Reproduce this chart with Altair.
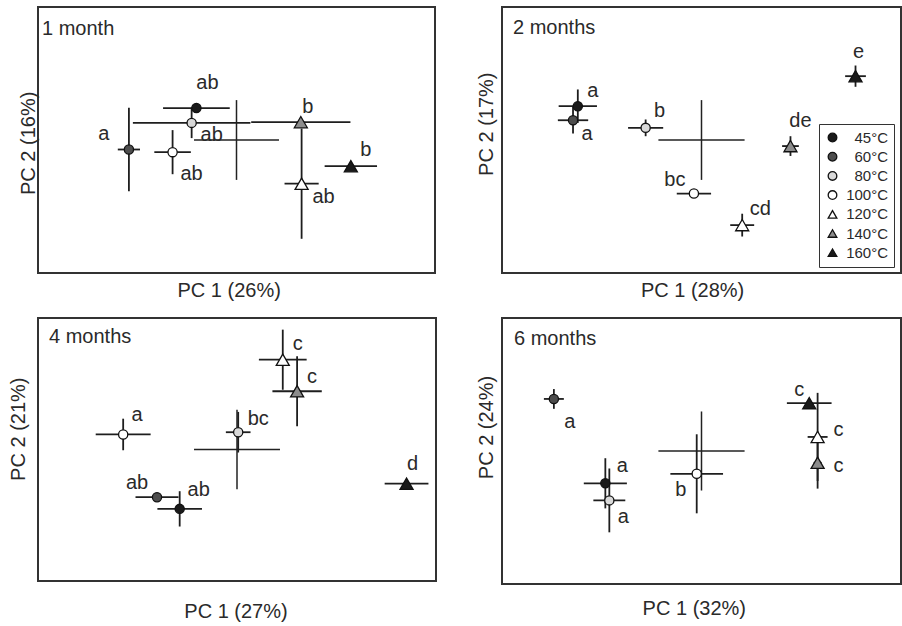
import altair as alt
import pandas as pd

FONT = "Liberation Sans"
INK = "#2a2a2a"

# Treatment temperatures (shared by all panels)
temps = ["45°C", "60°C", "80°C", "100°C", "120°C", "140°C", "160°C"]
fills = ["#1a1a1a", "#4d4d4d", "#d9d9d9", "#ffffff", "#ffffff", "#8c8c8c", "#1a1a1a"]
outlines = ["#111111"] * 7
shapes = ["circle", "circle", "circle", "circle", "triangle-up", "triangle-up", "triangle-up"]

panel_names = ["1 month", "2 months", "4 months", "6 months"]
pc1_titles = ["PC 1 (26%)", "PC 1 (28%)", "PC 1 (27%)", "PC 1 (32%)"]
pc2_titles = ["PC 2 (16%)", "PC 2 (17%)", "PC 2 (21%)", "PC 2 (24%)"]

# PCA scores (mean) and their standard errors, one list per storage time
pc1_1m = [-1.01, -2.71, -1.13, -1.61, 1.64, 1.62, 2.88]
pc2_1m = [0.84, -0.25, 0.45, -0.32, -1.15, 0.47, -0.69]
pc1_err_1m = [0.84, 0.28, 1.48, 0.46, 0.43, 1.25, 0.66]
pc2_err_1m = [0.10, 1.10, 0.40, 0.58, 1.45, 0.10, 0.10]
letters_1m = ["ab", "a", "ab", "ab", "ab", "b", "b"]

pc1_2m = [-3.10, -3.22, -1.40, -0.19, 1.02, 2.23, 3.86]
pc2_2m = [0.89, 0.52, 0.32, -1.41, -2.24, -0.16, 1.68]
pc1_err_2m = [0.48, 0.38, 0.44, 0.43, 0.30, 0.21, 0.26]
pc2_err_2m = [0.44, 0.35, 0.22, 0.10, 0.30, 0.26, 0.28]
letters_2m = ["a", "a", "b", "bc", "cd", "de", "e"]

pc1_4m = [-1.44, -2.01, 0.03, -2.86, 1.15, 1.51, 4.26]
pc2_4m = [-1.58, -1.27, 0.46, 0.40, 2.39, 1.55, -0.91]
pc1_err_4m = [0.56, 0.54, 0.31, 0.69, 0.60, 0.62, 0.55]
pc2_err_4m = [0.47, 0.10, 0.54, 0.42, 0.80, 0.93, 0.10]
letters_4m = ["ab", "ab", "bc", "a", "c", "c", "d"]

pc1_6m = [-2.41, -3.70, -2.31, -0.12, 2.91, 2.91, 2.70]
pc2_6m = [-0.85, 1.37, -1.30, -0.60, 0.37, -0.31, 1.26]
pc1_err_6m = [0.54, 0.25, 0.40, 0.66, 0.25, 0.10, 0.56]
pc2_err_6m = [0.66, 0.26, 0.84, 1.04, 1.16, 0.68, 0.10]
letters_6m = ["a", "a", "a", "b", "c", "c", "c"]

# Control (origin) spread per storage time
control_pc1_err = [1.07, 1.08, 1.08, 1.08]
control_pc2_err = [1.05, 1.05, 1.06, 1.04]

# Letter placement next to each marker, in pixels (right / down)
label_dx = [
    [11, -25, 20, 19, 22, 7, 15],
    [15, 14, 14, -19, 18, 10, 3],
    [19, -20, 20, 14, 15, 15, 6],
    [17, 16, 14, -16, 21, 21, -10],
]
label_dy = [
    [-25, -16, 12, 22, 13, -15, -16],
    [-15, 14, -17, -14, -16, -25, -24],
    [-19, -14, -13, -19, -16, -14, -20],
    [-17, 23, 17, 16, -7, 3, -13],
]

series = [
    (pc1_1m, pc2_1m, pc1_err_1m, pc2_err_1m, letters_1m),
    (pc1_2m, pc2_2m, pc1_err_2m, pc2_err_2m, letters_2m),
    (pc1_4m, pc2_4m, pc1_err_4m, pc2_err_4m, letters_4m),
    (pc1_6m, pc2_6m, pc1_err_6m, pc2_err_6m, letters_6m),
]

# Panel geometry and axis-title placement
dims = [(397, 266), (399, 266), (398, 263), (399, 266)]
xtitle_pos = [(190.7, 23.3), (190.1, 23.5), (197.5, 36.0), (191.8, 30.0)]
ytitle_pos = [(-3.3, 135.8), (-9.7, 116.7), (-13.3, 110.7), (-10.0, 109.0)]
name_pos = [(4, 47.6), (11, 47.3), (11, 45.0), (12, 47.3)]

X_DOM = [-5, 5]
Y_DOM = [-3.5, 3.5]

fill_scale = alt.Scale(domain=temps, range=fills)
stroke_scale = alt.Scale(domain=temps, range=outlines)
shape_scale = alt.Scale(domain=temps, range=shapes)

# Boxed key inside the 2-month panel, labels flush right
legend = alt.Legend(
    title=None,
    orient="none",
    legendX=781,
    legendY=117,
    strokeColor="#333333",
    padding=6,
    labelFont=FONT,
    labelFontSize=15,
    labelColor=INK,
    labelAlign="right",
    labelOffset=48,
    rowPadding=3.2,
    symbolSize=75,
    symbolStrokeWidth=1.3,
)


def panel(i):
    pc1, pc2, e1, e2, letters = series[i]
    w, h = dims[i]
    kx = w / (X_DOM[1] - X_DOM[0])
    ky = h / (Y_DOM[1] - Y_DOM[0])
    df = pd.DataFrame({
        "temp": temps, "pc1": pc1, "pc2": pc2, "e1": e1, "e2": e2,
        "letter": letters, "ldx": label_dx[i], "ldy": label_dy[i],
        "shape": shapes,
    })
    ctrl = pd.DataFrame({"pc1": [0.0], "pc2": [0.0],
                         "e1": [control_pc1_err[i]], "e2": [control_pc2_err[i]]})

    xax = alt.Axis(title=pc1_titles[i], titleX=xtitle_pos[i][0], titleY=xtitle_pos[i][1],
                   titleBaseline="alphabetic")
    yax = alt.Axis(title=pc2_titles[i], titleX=ytitle_pos[i][0], titleY=ytitle_pos[i][1],
                   titleBaseline="alphabetic")
    sx = alt.Scale(domain=X_DOM, nice=False, zero=False)
    sy = alt.Scale(domain=Y_DOM, nice=False, zero=False)

    def X(f):
        return alt.X(f, type="quantitative", scale=sx, axis=xax)

    def Y(f):
        return alt.Y(f, type="quantitative", scale=sy, axis=yax)

    calc = dict(x_lo="datum.pc1 - datum.e1", x_hi="datum.pc1 + datum.e1",
                y_lo="datum.pc2 - datum.e2", y_hi="datum.pc2 + datum.e2")

    ctrl_base = alt.Chart(ctrl).transform_calculate(**calc)
    ctrl_h = ctrl_base.mark_rule(color="#222222", strokeWidth=1.5).encode(
        x=X("x_lo"), x2="x_hi", y=Y("pc2"))
    ctrl_v = ctrl_base.mark_rule(color="#222222", strokeWidth=1.5).encode(
        x=X("pc1"), y=Y("y_lo"), y2="y_hi")

    base = alt.Chart(df).transform_calculate(**calc)
    bar_h = base.mark_rule(color="#1e1e1e", strokeWidth=1.8).encode(
        x=X("x_lo"), x2="x_hi", y=Y("pc2"))
    bar_v = base.mark_rule(color="#1e1e1e", strokeWidth=1.8).encode(
        x=X("pc1"), y=Y("y_lo"), y2="y_hi")

    def markers(shape_name, size):
        return base.transform_filter(f"datum.shape == '{shape_name}'").mark_point(
            filled=False, strokeWidth=1.3, opacity=1, fillOpacity=1, size=size
        ).encode(
            x=X("pc1"), y=Y("pc2"),
            fill=alt.Fill("temp:N", scale=fill_scale, legend=legend),
            stroke=alt.Stroke("temp:N", scale=stroke_scale, legend=legend),
            shape=alt.Shape("temp:N", scale=shape_scale, legend=legend),
        )

    circles = markers("circle", 85)
    triangles = markers("triangle-up", 170)

    txt = alt.Chart(df).transform_calculate(
        lx=f"datum.pc1 + datum.ldx / {kx}",
        ly=f"datum.pc2 - datum.ldy / {ky}",
    ).mark_text(font=FONT, fontSize=20, color=INK, align="center", baseline="middle").encode(
        x=X("lx"), y=Y("ly"), text="letter:N")

    return alt.layer(ctrl_h, ctrl_v, bar_h, bar_v, circles, triangles, txt).properties(
        width=w, height=h,
        title=alt.TitleParams(
            panel_names[i], anchor="start", frame="group", orient="top",
            baseline="alphabetic", offset=0, dx=name_pos[i][0], dy=name_pos[i][1],
            font=FONT, fontSize=20, fontWeight="normal", color=INK,
        ),
    )


chart = alt.concat(
    panel(0), panel(1), panel(2), panel(3),
    columns=2, spacing={"row": 45, "column": 66}, bounds="flush",
).properties(
    padding={"left": 7, "top": 6, "right": 0, "bottom": 0},
    background="white",
).configure_view(
    stroke="#333333", strokeWidth=2
).configure_axis(
    labels=False, ticks=False, domain=False, grid=False,
    titleFont=FONT, titleFontSize=20, titleFontWeight="normal", titleColor=INK,
).configure_legend(
    labelFont=FONT, labelFontSize=15, labelColor=INK, symbolStrokeWidth=1.3,
)

chart.save("out.html", embed_options={"renderer": "svg", "actions": False})
